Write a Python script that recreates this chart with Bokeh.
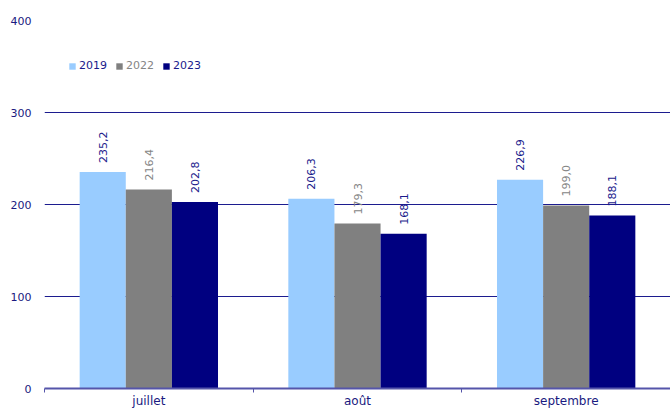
from bokeh.plotting import figure
from bokeh.models import (ColumnDataSource, Range1d, LinearAxis, FixedTicker,
                          Legend, LegendItem)
from bokeh.core.properties import value
from bokeh.embed import file_html
from bokeh.resources import INLINE
import math

months = ["juillet", "août", "septembre"]
years = ["2019", "2022", "2023"]
v2019 = [235.2, 206.3, 226.9]
v2022 = [216.4, 179.3, 199.0]
v2023 = [202.8, 168.1, 188.1]
y_ticks = [0, 100, 200, 300, 400]

colors = {"2019": "#99ccff", "2022": "#808080", "2023": "#000080"}
label_colors = {"2019": "#1a1a8c", "2022": "#858585", "2023": "#1a1a8c"}
navy_text = "#1a1a80"
grid_col = "#1c1c8f"
FONT = "DejaVu Sans"

def fmt(v):
    return f"{v:.1f}".replace(".", ",")

centers = [i + 0.5 for i in range(len(months))]
bounds = list(range(len(months) + 1))
bw = 0.221
offsets = {"2019": -bw, "2022": 0.0, "2023": bw}

data = {"month": months, "center": centers, "2019": v2019, "2022": v2022, "2023": v2023}
for y in years:
    data["lab" + y] = [fmt(v) for v in data[y]]
    data["x" + y] = [c + offsets[y] for c in centers]
src = ColumnDataSource(data)

p = figure(width=670, height=410, output_backend="svg", toolbar_location=None,
           x_range=Range1d(0, len(months)), y_range=Range1d(0, 400), x_axis_location=None,
           min_border_left=44, min_border_right=0, min_border_top=20, min_border_bottom=22)
p.outline_line_color = None
p.background_fill_color = "white"
p.border_fill_color = "white"

renderers = {}
for y in years:
    r = p.vbar(x="x" + y, top=y, width=bw, source=src,
               fill_color=colors[y], line_color=None)
    renderers[y] = r
    p.text(x="x" + y, y=y, text="lab" + y, source=src, angle=math.pi / 2,
           x_offset=0, y_offset=-9, text_align="left", text_baseline="middle",
           text_font=value(FONT), text_font_size="11px", text_color=label_colors[y])

# y axis
yax = p.yaxis[0]
yax.ticker = FixedTicker(ticks=y_ticks)
yax.axis_line_color = None
yax.major_tick_line_color = None
yax.minor_tick_line_color = None
yax.major_label_standoff = 7
yax.major_label_text_font = FONT
yax.major_label_text_font_size = "11px"
yax.major_label_text_color = navy_text

p.xgrid.grid_line_color = None
p.ygrid.ticker = FixedTicker(ticks=y_ticks)
p.ygrid.grid_line_color = grid_col
p.ygrid.grid_line_width = 1

# x axis: month names at category centres, small ticks at category boundaries
xax = LinearAxis(ticker=FixedTicker(ticks=centers, minor_ticks=bounds),
                 major_label_overrides={c: m for c, m in zip(centers, months)},
                 major_tick_line_color=None, major_tick_in=0, major_tick_out=0,
                 minor_tick_in=0, minor_tick_out=4, minor_tick_line_color="#5555aa",
                 axis_line_color="#5555aa", axis_line_width=2,
                 major_label_standoff=1, major_label_text_font=FONT,
                 major_label_text_font_size="12px", major_label_text_color=navy_text)
p.add_layout(xax, "below")

# legends
legend_x = {"2019": 24, "2022": 71, "2023": 118}
for y in years:
    lg = Legend(items=[LegendItem(label=y, renderers=[renderers[y]])],
                location=(legend_x[y], 316), padding=0, margin=0, spacing=0,
                border_line_color=None, background_fill_alpha=0,
                glyph_width=8, glyph_height=8, label_height=12, label_standoff=3,
                label_text_font=FONT, label_text_font_size="11px",
                label_text_color=label_colors[y])
    p.add_layout(lg, "center")

open("out.html", "w").write(file_html(p, INLINE))
